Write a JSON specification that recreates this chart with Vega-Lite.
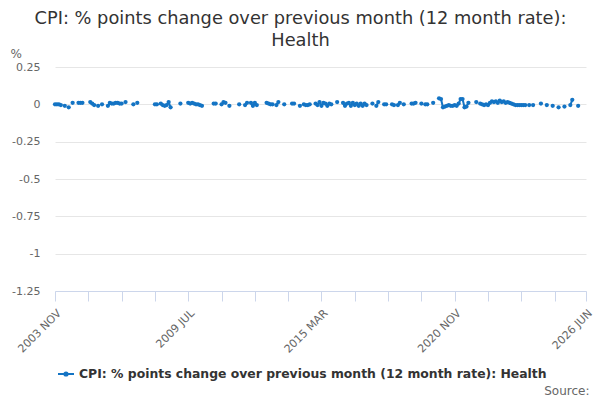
{
  "$schema": "https://vega.github.io/schema/vega-lite/v6.json",
  "width": 531,
  "height": 224,
  "autosize": {"type": "none"},
  "padding": {"left": 55, "top": 67, "right": 14, "bottom": 109},
  "background": "white",
  "config": {
    "font": "DejaVu Sans",
    "view": {"stroke": null}
  },
  "title": {
    "text": ["CPI: % points change over previous month (12 month rate):", "Health"],
    "fontSize": 17.8,
    "fontWeight": "normal",
    "color": "#333333",
    "anchor": "middle",
    "frame": "group",
    "dx": -20,
    "offset": -3,
    "lineHeight": 22
  },
  "data": {
    "values": [
      {"m": "2003 NOV", "v": 0}, {"m": "2003 DEC", "v": 0},
      {"m": "2004 JAN", "v": 0}, {"m": "2004 FEB", "v": -0.005}, {"m": "2004 MAR", "v": null}, {"m": "2004 APR", "v": -0.01},
      {"m": "2004 MAY", "v": null}, {"m": "2004 JUN", "v": -0.02}, {"m": "2004 JUL", "v": null}, {"m": "2004 AUG", "v": 0.01},
      {"m": "2004 SEP", "v": null}, {"m": "2004 OCT", "v": null}, {"m": "2004 NOV", "v": 0.01}, {"m": "2004 DEC", "v": 0.01},
      {"m": "2005 JAN", "v": 0.01}, {"m": "2005 FEB", "v": null}, {"m": "2005 MAR", "v": null}, {"m": "2005 APR", "v": null},
      {"m": "2005 MAY", "v": 0.015}, {"m": "2005 JUN", "v": 0.005}, {"m": "2005 JUL", "v": -0.005}, {"m": "2005 AUG", "v": null},
      {"m": "2005 SEP", "v": -0.01}, {"m": "2005 OCT", "v": null}, {"m": "2005 NOV", "v": 0}, {"m": "2005 DEC", "v": null},
      {"m": "2006 JAN", "v": null}, {"m": "2006 FEB", "v": -0.01}, {"m": "2006 MAR", "v": 0.01}, {"m": "2006 APR", "v": 0.005},
      {"m": "2006 MAY", "v": 0.005}, {"m": "2006 JUN", "v": 0.01}, {"m": "2006 JUL", "v": 0.01}, {"m": "2006 AUG", "v": 0.005},
      {"m": "2006 SEP", "v": 0.005}, {"m": "2006 OCT", "v": null}, {"m": "2006 NOV", "v": 0.015}, {"m": "2006 DEC", "v": null},
      {"m": "2007 JAN", "v": null}, {"m": "2007 FEB", "v": null}, {"m": "2007 MAR", "v": 0}, {"m": "2007 APR", "v": null},
      {"m": "2007 MAY", "v": 0.01}, {"m": "2007 JUN", "v": null}, {"m": "2007 JUL", "v": null}, {"m": "2007 AUG", "v": null},
      {"m": "2007 SEP", "v": null}, {"m": "2007 OCT", "v": null}, {"m": "2007 NOV", "v": null}, {"m": "2007 DEC", "v": null},
      {"m": "2008 JAN", "v": null}, {"m": "2008 FEB", "v": 0}, {"m": "2008 MAR", "v": 0}, {"m": "2008 APR", "v": null},
      {"m": "2008 MAY", "v": 0.005}, {"m": "2008 JUN", "v": -0.005}, {"m": "2008 JUL", "v": -0.01}, {"m": "2008 AUG", "v": -0.005},
      {"m": "2008 SEP", "v": 0.015}, {"m": "2008 OCT", "v": -0.02}, {"m": "2008 NOV", "v": null}, {"m": "2008 DEC", "v": null},
      {"m": "2009 JAN", "v": null}, {"m": "2009 FEB", "v": null}, {"m": "2009 MAR", "v": 0.005}, {"m": "2009 APR", "v": null},
      {"m": "2009 MAY", "v": null}, {"m": "2009 JUN", "v": null}, {"m": "2009 JUL", "v": 0.01}, {"m": "2009 AUG", "v": 0.005},
      {"m": "2009 SEP", "v": 0.01}, {"m": "2009 OCT", "v": 0.005}, {"m": "2009 NOV", "v": 0}, {"m": "2009 DEC", "v": 0},
      {"m": "2010 JAN", "v": -0.005}, {"m": "2010 FEB", "v": -0.01}, {"m": "2010 MAR", "v": null}, {"m": "2010 APR", "v": null},
      {"m": "2010 MAY", "v": null}, {"m": "2010 JUN", "v": null}, {"m": "2010 JUL", "v": null}, {"m": "2010 AUG", "v": 0.005},
      {"m": "2010 SEP", "v": 0.005}, {"m": "2010 OCT", "v": null}, {"m": "2010 NOV", "v": null}, {"m": "2010 DEC", "v": 0},
      {"m": "2011 JAN", "v": 0.015}, {"m": "2011 FEB", "v": 0.01}, {"m": "2011 MAR", "v": null}, {"m": "2011 APR", "v": -0.01},
      {"m": "2011 MAY", "v": null}, {"m": "2011 JUN", "v": null}, {"m": "2011 JUL", "v": null}, {"m": "2011 AUG", "v": null},
      {"m": "2011 SEP", "v": 0}, {"m": "2011 OCT", "v": null}, {"m": "2011 NOV", "v": null}, {"m": "2011 DEC", "v": -0.005},
      {"m": "2012 JAN", "v": 0.01}, {"m": "2012 FEB", "v": null}, {"m": "2012 MAR", "v": 0.01}, {"m": "2012 APR", "v": -0.01},
      {"m": "2012 MAY", "v": 0.01}, {"m": "2012 JUN", "v": -0.005}, {"m": "2012 JUL", "v": null}, {"m": "2012 AUG", "v": null},
      {"m": "2012 SEP", "v": null}, {"m": "2012 OCT", "v": null}, {"m": "2012 NOV", "v": 0.01}, {"m": "2012 DEC", "v": 0.005},
      {"m": "2013 JAN", "v": 0}, {"m": "2013 FEB", "v": 0}, {"m": "2013 MAR", "v": null}, {"m": "2013 APR", "v": -0.005},
      {"m": "2013 MAY", "v": 0.015}, {"m": "2013 JUN", "v": null}, {"m": "2013 JUL", "v": null}, {"m": "2013 AUG", "v": 0},
      {"m": "2013 SEP", "v": null}, {"m": "2013 OCT", "v": null}, {"m": "2013 NOV", "v": null}, {"m": "2013 DEC", "v": 0.005},
      {"m": "2014 JAN", "v": 0.005}, {"m": "2014 FEB", "v": null}, {"m": "2014 MAR", "v": null}, {"m": "2014 APR", "v": -0.01},
      {"m": "2014 MAY", "v": null}, {"m": "2014 JUN", "v": 0}, {"m": "2014 JUL", "v": -0.005}, {"m": "2014 AUG", "v": -0.005},
      {"m": "2014 SEP", "v": 0}, {"m": "2014 OCT", "v": null}, {"m": "2014 NOV", "v": null}, {"m": "2014 DEC", "v": 0.005},
      {"m": "2015 JAN", "v": -0.005}, {"m": "2015 FEB", "v": 0.015}, {"m": "2015 MAR", "v": -0.01}, {"m": "2015 APR", "v": 0.01},
      {"m": "2015 MAY", "v": 0.005}, {"m": "2015 JUN", "v": -0.01}, {"m": "2015 JUL", "v": 0.005}, {"m": "2015 AUG", "v": 0},
      {"m": "2015 SEP", "v": null}, {"m": "2015 OCT", "v": null}, {"m": "2015 NOV", "v": 0.015}, {"m": "2015 DEC", "v": null},
      {"m": "2016 JAN", "v": null}, {"m": "2016 FEB", "v": 0.01}, {"m": "2016 MAR", "v": -0.01}, {"m": "2016 APR", "v": 0.005},
      {"m": "2016 MAY", "v": 0.01}, {"m": "2016 JUN", "v": -0.01}, {"m": "2016 JUL", "v": 0.01}, {"m": "2016 AUG", "v": -0.005},
      {"m": "2016 SEP", "v": 0.005}, {"m": "2016 OCT", "v": -0.01}, {"m": "2016 NOV", "v": 0.005}, {"m": "2016 DEC", "v": -0.01},
      {"m": "2017 JAN", "v": 0.005}, {"m": "2017 FEB", "v": -0.005}, {"m": "2017 MAR", "v": null}, {"m": "2017 APR", "v": null},
      {"m": "2017 MAY", "v": 0.005}, {"m": "2017 JUN", "v": null}, {"m": "2017 JUL", "v": -0.01}, {"m": "2017 AUG", "v": 0.015},
      {"m": "2017 SEP", "v": null}, {"m": "2017 OCT", "v": null}, {"m": "2017 NOV", "v": 0}, {"m": "2017 DEC", "v": 0},
      {"m": "2018 JAN", "v": null}, {"m": "2018 FEB", "v": null}, {"m": "2018 MAR", "v": 0}, {"m": "2018 APR", "v": -0.005},
      {"m": "2018 MAY", "v": null}, {"m": "2018 JUN", "v": -0.005}, {"m": "2018 JUL", "v": 0.01}, {"m": "2018 AUG", "v": null},
      {"m": "2018 SEP", "v": 0}, {"m": "2018 OCT", "v": null}, {"m": "2018 NOV", "v": null}, {"m": "2018 DEC", "v": null},
      {"m": "2019 JAN", "v": 0.005}, {"m": "2019 FEB", "v": 0.005}, {"m": "2019 MAR", "v": 0.01}, {"m": "2019 APR", "v": null},
      {"m": "2019 MAY", "v": null}, {"m": "2019 JUN", "v": 0.005}, {"m": "2019 JUL", "v": null}, {"m": "2019 AUG", "v": 0},
      {"m": "2019 SEP", "v": 0}, {"m": "2019 OCT", "v": null}, {"m": "2019 NOV", "v": null}, {"m": "2019 DEC", "v": 0.01},
      {"m": "2020 JAN", "v": null}, {"m": "2020 FEB", "v": null}, {"m": "2020 MAR", "v": 0.04}, {"m": "2020 APR", "v": 0.035},
      {"m": "2020 MAY", "v": -0.02}, {"m": "2020 JUN", "v": -0.015}, {"m": "2020 JUL", "v": -0.01}, {"m": "2020 AUG", "v": -0.005},
      {"m": "2020 SEP", "v": -0.01}, {"m": "2020 OCT", "v": -0.01}, {"m": "2020 NOV", "v": -0.005}, {"m": "2020 DEC", "v": -0.01},
      {"m": "2021 JAN", "v": 0.005}, {"m": "2021 FEB", "v": 0.035}, {"m": "2021 MAR", "v": 0.035}, {"m": "2021 APR", "v": -0.02},
      {"m": "2021 MAY", "v": -0.015}, {"m": "2021 JUN", "v": 0.01}, {"m": "2021 JUL", "v": null}, {"m": "2021 AUG", "v": null},
      {"m": "2021 SEP", "v": null}, {"m": "2021 OCT", "v": 0.015}, {"m": "2021 NOV", "v": null}, {"m": "2021 DEC", "v": 0.005},
      {"m": "2022 JAN", "v": 0}, {"m": "2022 FEB", "v": -0.005}, {"m": "2022 MAR", "v": 0}, {"m": "2022 APR", "v": -0.005},
      {"m": "2022 MAY", "v": 0.01}, {"m": "2022 JUN", "v": 0.02}, {"m": "2022 JUL", "v": 0.015}, {"m": "2022 AUG", "v": 0.02},
      {"m": "2022 SEP", "v": 0.01}, {"m": "2022 OCT", "v": 0.025}, {"m": "2022 NOV", "v": 0.015}, {"m": "2022 DEC", "v": 0.02},
      {"m": "2023 JAN", "v": 0.01}, {"m": "2023 FEB", "v": 0.015}, {"m": "2023 MAR", "v": 0.01}, {"m": "2023 APR", "v": 0.005},
      {"m": "2023 MAY", "v": 0}, {"m": "2023 JUN", "v": -0.005}, {"m": "2023 JUL", "v": -0.005}, {"m": "2023 AUG", "v": -0.005},
      {"m": "2023 SEP", "v": -0.005}, {"m": "2023 OCT", "v": -0.005}, {"m": "2023 NOV", "v": -0.005}, {"m": "2023 DEC", "v": null},
      {"m": "2024 JAN", "v": -0.005}, {"m": "2024 FEB", "v": null}, {"m": "2024 MAR", "v": -0.005}, {"m": "2024 APR", "v": null},
      {"m": "2024 MAY", "v": null}, {"m": "2024 JUN", "v": null}, {"m": "2024 JUL", "v": 0.005}, {"m": "2024 AUG", "v": null},
      {"m": "2024 SEP", "v": null}, {"m": "2024 OCT", "v": -0.005}, {"m": "2024 NOV", "v": null}, {"m": "2024 DEC", "v": null},
      {"m": "2025 JAN", "v": -0.01}, {"m": "2025 FEB", "v": null}, {"m": "2025 MAR", "v": null}, {"m": "2025 APR", "v": -0.02},
      {"m": "2025 MAY", "v": null}, {"m": "2025 JUN", "v": null}, {"m": "2025 JUL", "v": -0.015}, {"m": "2025 AUG", "v": null},
      {"m": "2025 SEP", "v": null}, {"m": "2025 OCT", "v": -0.005}, {"m": "2025 NOV", "v": 0.03}, {"m": "2025 DEC", "v": null},
      {"m": "2026 JAN", "v": null}, {"m": "2026 FEB", "v": -0.01}, {"m": "2026 MAR", "v": null}, {"m": "2026 APR", "v": null},
      {"m": "2026 MAY", "v": null}, {"m": "2026 JUN", "v": null}
    ]
  },
  "encoding": {
    "x": {
      "field": "m",
      "type": "ordinal",
      "sort": null,
      "scale": {"type": "point", "padding": 0},
      "axis": {
        "title": "Source:",
        "titleX": 534,
        "titleY": 99,
        "titleAlign": "right",
        "titleAnchor": "end",
        "titleBaseline": "middle",
        "titleFontSize": 12,
        "titleFontWeight": "normal",
        "titleColor": "#666666",
        "values": ["2003 NOV", "2005 APR", "2006 SEP", "2008 FEB", "2009 JUL", "2010 DEC", "2012 MAY", "2013 OCT", "2015 MAR", "2016 AUG", "2018 JAN", "2019 JUN", "2020 NOV", "2022 APR", "2023 SEP", "2025 FEB", "2026 JUN"],
        "labelExpr": "indexof(['2003 NOV','2009 JUL','2015 MAR','2020 NOV','2026 JUN'], datum.value) >= 0 ? datum.value : ''",
        "labelAngle": -45,
        "labelAlign": "right",
        "labelBaseline": "top",
        "labelPadding": 6,
        "labelFontSize": 11,
        "labelColor": "#666666",
        "labelOverlap": false,
        "labelLimit": 200,
        "tickSize": 10,
        "tickColor": "#ccd6eb",
        "domainColor": "#ccd6eb",
        "grid": false
      }
    },
    "y": {
      "field": "v",
      "type": "quantitative",
      "scale": {"domain": [-1.25, 0.25], "nice": false, "zero": false},
      "axis": {
        "title": "%",
        "titleAngle": 0,
        "titleX": -45,
        "titleY": -14,
        "titleAlign": "left",
        "titleBaseline": "middle",
        "titleFontSize": 12,
        "titleFontWeight": "normal",
        "titleColor": "#666666",
        "values": [-1.25, -1, -0.75, -0.5, -0.25, 0, 0.25],
        "labelExpr": "datum.value + ''",
        "labelFontSize": 11,
        "labelColor": "#666666",
        "labelPadding": 15,
        "domain": false,
        "ticks": false,
        "grid": true,
        "gridColor": "#e6e6e6"
      }
    }
  },
  "layer": [
    {
      "mark": {"type": "line", "strokeWidth": 2, "invalid": "break-paths-show-domains"},
      "encoding": {
        "color": {
          "datum": "CPI: % points change over previous month (12 month rate): Health",
          "type": "nominal",
          "scale": {"range": ["#1474c4"]},
          "legend": {
            "title": null,
            "orient": "none",
            "legendX": 2,
            "legendY": 298,
            "labelFontSize": 12.4,
            "labelFontWeight": "bold",
            "labelColor": "#333333",
            "labelLimit": 600,
            "symbolType": "M-1,0H1M-0.2,0A0.2,0.2,0,1,1,0.2,0A0.2,0.2,0,1,1,-0.2,0Z",
            "symbolSize": 256,
            "symbolStrokeWidth": 2,
            "symbolFillColor": "#1474c4"
          }
        }
      }
    },
    {
      "mark": {"type": "point", "filled": true, "size": 18, "opacity": 1, "color": "#1474c4", "invalid": "filter"},
      "encoding": {}
    }
  ]
}
